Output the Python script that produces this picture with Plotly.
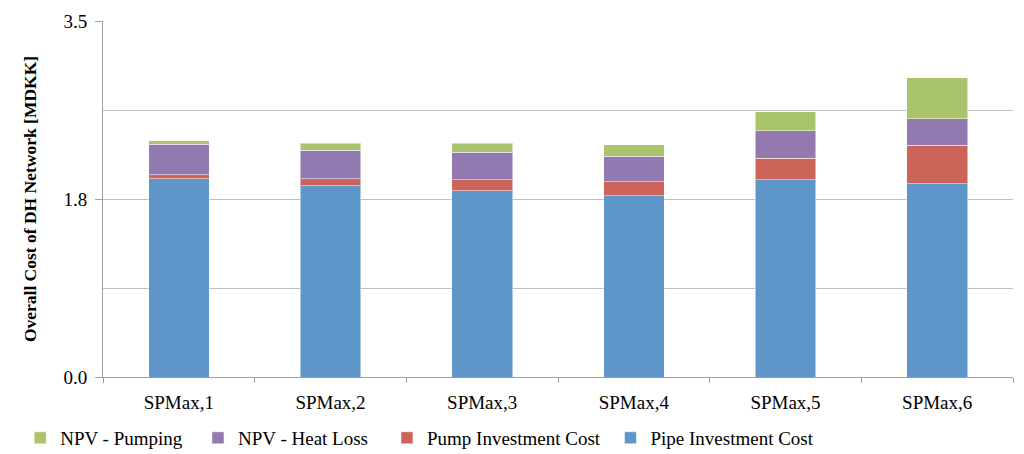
import plotly.graph_objects as go

categories = ["SPMax,1", "SPMax,2", "SPMax,3", "SPMax,4", "SPMax,5", "SPMax,6"]
pipe_investment = [1.95, 1.88, 1.83, 1.78, 1.94, 1.90]
pump_investment = [0.04, 0.07, 0.11, 0.14, 0.21, 0.38]
npv_heat_loss = [0.30, 0.28, 0.27, 0.25, 0.27, 0.26]
npv_pumping = [0.035, 0.07, 0.09, 0.115, 0.19, 0.40]
y_tick_vals = [0.0, 1.75, 3.5]
y_tick_text = ["0.0", "1.8", "3.5"]

series = [
    ("Pipe Investment Cost", pipe_investment, "#5E96CA", "legend5", 0.593),
    ("Pump Investment Cost", pump_investment, "#CC6459", "legend4", 0.373),
    ("NPV - Heat Loss", npv_heat_loss, "#9279B0", "legend3", 0.187),
    ("NPV - Pumping", npv_pumping, "#AAC46B", "legend2", 0.012),
]

font_family = "Liberation Serif, Times New Roman, serif"

fig = go.Figure()
legend_cfg = {}
for name, vals, col, leg, lx in series:
    fig.add_trace(go.Bar(
        x=categories, y=vals, name=name, legend=leg,
        marker=dict(color=col, line=dict(color="rgba(255,255,255,0.5)", width=1)),
    ))
    legend_cfg[leg] = dict(
        orientation="h", x=lx, xref="container", y=0.036, yref="container",
        xanchor="left", yanchor="middle", bgcolor="rgba(0,0,0,0)",
        font=dict(size=19, family=font_family, color="black"),
        itemwidth=30,
    )

fig.update_layout(
    barmode="stack",
    bargap=0.6,
    width=1016, height=446,
    margin=dict(l=95, r=11, t=13, b=77, autoexpand=False),
    paper_bgcolor="white", plot_bgcolor="white",
    font=dict(family=font_family, size=19, color="black"),
    xaxis=dict(
        type="category",
        showline=True, linecolor="#A0A0A0", linewidth=1,
        ticks="outside", tickson="boundaries", ticklen=5, tickcolor="#A0A0A0",
        showgrid=False,
        tickfont=dict(size=19, family=font_family),
        ticklabelstandoff=8,
    ),
    yaxis=dict(
        range=[0, 3.5],
        tickvals=y_tick_vals, ticktext=y_tick_text,
        showline=True, linecolor="#A0A0A0", linewidth=1,
        ticks="outside", ticklen=7, tickcolor="#A0A0A0",
        showgrid=True, gridcolor="#C0C0C0", gridwidth=1,
        zeroline=False,
        minor=dict(dtick=0.875, tick0=0, showgrid=True, gridcolor="#C0C0C0", gridwidth=1),
        tickfont=dict(size=19, family=font_family),
        ticklabelstandoff=4,
        title=dict(text="<b>Overall Cost of DH Network [MDKK]</b>",
                   font=dict(size=17.5, family=font_family), standoff=22),
    ),
)
fig.update_layout(**legend_cfg)

fig.write_html("out.html")
